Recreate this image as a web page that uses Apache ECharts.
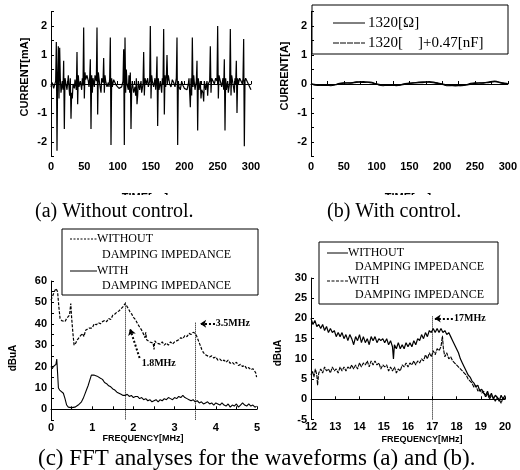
<!DOCTYPE html>
<html><head><meta charset="utf-8">
<script src="https://cdn.jsdelivr.net/npm/echarts@6/dist/echarts.min.js"></script>
<style>html,body{margin:0;padding:0;background:#fff}#c{width:520px;height:470px}</style>
</head><body><div id="c"></div>
<script>
// (a) current waveform without control: [time, current mA]
const waveA = [[0,-0.1],[2,0.05],[4,-0.15],[6,-0.1],[7,0.1],[8,1.45],[9,-2.3],[10,0.3],[11,1.3],[12,-0.5],[13,1.25],[14,0.2],[15,-0.3],[17,0.1],[18,-0.2],[19,0.8],[20,-1.55],[21,0.2],[23,0.25],[24,-0.2],[26,0.3],[27,-0.1],[28,-0.4],[29,0.2],[30,-1.2],[31,-0.3],[32,-0.5],[33,0.0],[35,-0.15],[36,0.15],[38,-0.2],[39,1.1],[40,-0.7],[41,0.3],[42,-0.1],[44,0.1],[46,-0.2],[47,0.2],[48,-0.05],[49,1.95],[50,-0.5],[51,0.4],[52,0.15],[54,0.3],[56,0.1],[57,-0.1],[58,0.2],[59,0.85],[60,-1.55],[61,0.3],[62,-0.3],[63,0.2],[65,-0.1],[66,0.3],[68,0.1],[69,1.95],[70,-1.05],[71,0.4],[72,0.2],[73,0.0],[75,-0.3],[76,0.2],[78,0.05],[79,0.9],[80,-0.3],[81,0.3],[82,0.1],[84,-0.1],[86,0.05],[87,-0.1],[88,0.2],[89,1.6],[90,-2.1],[91,0.2],[92,-0.1],[94,0.15],[96,0.1],[98,-0.05],[100,-0.1],[102,-0.15],[104,-0.1],[106,-0.1],[108,0.1],[109,1.2],[110,-2.1],[111,1.6],[112,-0.3],[113,0.5],[114,0.0],[116,-0.2],[117,0.3],[118,-0.3],[119,0.4],[120,-1.55],[121,-0.2],[122,0.1],[124,-0.3],[126,-0.1],[127,-0.4],[128,0.2],[129,-0.7],[130,-0.4],[131,0.1],[133,-0.2],[135,0.1],[136,-0.3],[138,0.0],[139,1.1],[140,-0.4],[141,0.2],[143,0.0],[145,0.2],[146,-0.1],[148,0.1],[149,2.0],[150,-0.5],[151,0.3],[152,0.1],[154,-0.1],[156,0.2],[157,-0.2],[158,0.1],[159,0.95],[160,-1.45],[161,0.2],[162,-0.2],[164,0.1],[166,-0.3],[167,0.2],[168,0.0],[169,1.9],[170,-1.05],[171,0.3],[172,-0.1],[173,0.2],[174,1.0],[175,0.1],[176,0.3],[178,0.0],[180,-0.1],[182,0.15],[184,0.05],[186,-0.1],[188,0.2],[189,1.6],[190,-2.1],[191,0.1],[192,-0.1],[194,-0.2],[196,0.1],[198,-0.05],[200,-0.15],[202,-0.1],[204,-0.2],[206,0.0],[207,0.2],[208,-0.3],[209,-0.8],[210,0.2],[211,-0.4],[212,1.6],[213,-0.1],[214,0.3],[216,-0.2],[218,0.1],[219,0.8],[220,-1.6],[221,0.2],[222,-0.2],[224,0.1],[225,-0.5],[226,-0.2],[228,-0.3],[229,-0.6],[230,0.1],[232,-0.2],[234,0.1],[235,-0.4],[236,0.0],[238,0.1],[239,1.3],[240,-0.3],[241,0.2],[243,0.1],[245,0.0],[247,0.2],[249,0.1],[250,2.0],[251,-0.5],[252,0.3],[254,0.1],[256,-0.1],[258,0.2],[259,-0.2],[260,0.85],[261,-1.6],[262,0.2],[263,-0.2],[265,0.1],[266,-0.3],[268,0.05],[269,1.9],[270,-0.4],[271,0.3],[273,0.0],[275,-0.3],[276,0.2],[277,0.0],[278,0.8],[279,-1.0],[280,0.2],[281,0.0],[283,0.2],[285,0.1],[287,0.0],[288,0.2],[289,1.55],[290,-2.15],[291,0.1],[292,0.2],[294,0.25],[296,0.0],[298,-0.1],[300,-0.2]];

// (b) with control
const timeB = [0,10,20,30,40,50,60,70,80,90,100,110,120,130,140,150,160,170,180,190,200,210,220,230,240,250,260,270,280,290,300];
const ohmB  = [0,-0.03,-0.05,-0.04,-0.01,0.03,0.04,0.06,0.08,0.05,0.0,-0.04,-0.05,-0.05,-0.02,0.02,0.04,0.05,0.08,0.05,0.0,-0.04,-0.06,-0.05,-0.02,0.02,0.04,0.05,0.08,0.05,0.01];
const capB  = [0.01,-0.05,-0.03,-0.06,0.0,0.04,0.03,0.08,0.05,0.07,-0.01,-0.06,-0.03,-0.06,0.0,0.03,0.05,0.08,0.06,0.03,-0.02,-0.06,-0.04,-0.06,0.0,0.04,0.03,0.07,0.10,0.03,0.0];

// (c) FFT 0-5 MHz: [MHz, dBuA]
const fftLowWithout = [[0,51],[0.04,53],[0.08,55],[0.12,56.5],[0.14,57],[0.16,55],[0.19,48],[0.22,42.5],[0.26,41.5],[0.3,42],[0.34,41],[0.38,42.5],[0.42,43],[0.45,44],[0.48,49.5],[0.5,43],[0.53,36],[0.56,30],[0.6,31],[0.64,32.5],[0.68,32],[0.72,34.5],[0.76,35.5],[0.8,34],[0.84,37],[0.88,36.5],[0.92,38],[0.96,38.5],[1.0,38],[1.05,40],[1.1,39.5],[1.15,40.5],[1.2,40],[1.25,41],[1.3,41.5],[1.35,41],[1.4,42.5],[1.45,42],[1.5,44],[1.55,44.5],[1.6,45.5],[1.65,46],[1.7,47],[1.75,48],[1.8,49.5],[1.84,49],[1.88,47],[1.92,45.5],[1.96,44.5],[2.0,43],[2.05,42],[2.1,40],[2.15,38.5],[2.2,37],[2.25,35],[2.28,33.5],[2.3,36],[2.32,32.5],[2.36,33],[2.4,31.5],[2.44,32],[2.48,31],[2.5,28],[2.52,32],[2.56,31],[2.6,31.5],[2.65,30.5],[2.7,31.5],[2.75,30],[2.8,31],[2.85,30],[2.9,31.5],[2.95,30.5],[3.0,31.5],[3.05,32],[3.1,32.5],[3.15,33.5],[3.2,33],[3.25,34.5],[3.3,34],[3.35,35.5],[3.4,35],[3.45,36],[3.5,35.5],[3.54,34],[3.58,32],[3.62,30],[3.66,28],[3.7,26.5],[3.75,25.5],[3.8,25],[3.85,24.5],[3.9,25],[3.95,24],[4.0,24.5],[4.05,23],[4.1,23.5],[4.15,22.5],[4.2,23],[4.25,22],[4.3,23],[4.35,21.5],[4.4,22],[4.45,21],[4.5,22],[4.55,20.5],[4.6,21],[4.65,20],[4.7,20.5],[4.75,19],[4.8,19.5],[4.85,18.5],[4.9,19],[4.94,18],[4.97,17],[4.99,15]];
const fftLowWith = [[0,20],[0.03,19],[0.06,20],[0.09,19.5],[0.12,21],[0.14,23.5],[0.16,17],[0.18,10],[0.21,9],[0.25,8.5],[0.3,7.5],[0.34,5],[0.38,2],[0.42,1],[0.46,0.3],[0.5,0.8],[0.54,0],[0.58,1],[0.62,1.5],[0.66,2],[0.7,2.5],[0.74,3.5],[0.78,5],[0.82,7],[0.86,9],[0.9,11],[0.94,13.5],[0.98,16],[1.0,16.7],[1.04,16],[1.08,16.5],[1.12,15.5],[1.16,16],[1.2,14.5],[1.25,14],[1.3,12.5],[1.35,12],[1.4,11],[1.45,10.5],[1.5,9.5],[1.55,9],[1.6,8],[1.65,7.5],[1.7,7],[1.75,6.5],[1.8,6.5],[1.85,7],[1.9,6],[1.95,6.5],[2.0,5.5],[2.05,6],[2.1,6],[2.15,5],[2.2,5.5],[2.25,4.5],[2.3,5],[2.35,4],[2.4,4.5],[2.45,3.5],[2.5,4],[2.55,4.5],[2.6,3.5],[2.65,4.5],[2.7,4],[2.75,5],[2.8,4.5],[2.85,5.5],[2.9,5],[2.95,4.5],[3.0,5.5],[3.05,5],[3.1,6],[3.15,5.5],[3.2,6.5],[3.25,5.5],[3.3,5],[3.35,4.5],[3.4,4],[3.45,4.5],[3.5,3.5],[3.55,4],[3.6,3],[3.65,3.5],[3.7,2.5],[3.75,3],[3.8,3.5],[3.85,2.5],[3.9,3],[3.95,2],[4.0,3],[4.05,2.5],[4.1,2],[4.15,3],[4.2,2],[4.25,1.5],[4.3,2.5],[4.35,1],[4.4,2],[4.45,1.5],[4.5,2.5],[4.55,1],[4.6,2],[4.65,3],[4.7,2],[4.75,1.5],[4.8,2.5],[4.85,1.5],[4.9,2],[4.95,1],[4.99,1.5]];

// (c) FFT 12-20 MHz: [MHz, dBuA]
const fftHighWithout = [[12.00,20],[12.08,18.5],[12.16,19.5],[12.24,18],[12.32,18.5],[12.40,17.5],[12.48,18.5],[12.56,17],[12.64,18],[12.72,16.5],[12.80,17.5],[12.88,16.5],[12.96,17],[13.04,15.5],[13.12,16.5],[13.20,15.5],[13.28,16.5],[13.36,15],[13.44,16],[13.52,14.5],[13.60,16],[13.68,15],[13.76,13.5],[13.84,15.5],[13.92,14.5],[14.00,16],[14.08,14],[14.16,15.5],[14.24,14],[14.32,15],[14.40,13.5],[14.48,15.5],[14.56,14.5],[14.64,15.5],[14.72,14],[14.80,15],[14.88,14.5],[14.96,15],[15.04,14],[15.12,15],[15.20,13.5],[15.28,14.5],[15.36,13],[15.40,10],[15.44,13.5],[15.52,12.5],[15.60,14],[15.68,12.5],[15.76,13.5],[15.84,12.5],[15.92,14],[16.00,13],[16.08,14],[16.16,13],[16.24,14.5],[16.32,13.5],[16.40,15],[16.48,14.5],[16.56,16],[16.64,15],[16.72,16.5],[16.80,15.5],[16.88,17],[16.96,16.5],[17.04,17.5],[17.12,16.5],[17.20,17.5],[17.28,16.5],[17.36,17.5],[17.44,16.5],[17.52,17],[17.60,16],[17.68,16.5],[17.76,15.5],[17.84,14.5],[17.92,13.5],[18.00,12.5],[18.08,11.5],[18.16,10],[18.24,9],[18.32,8],[18.40,7],[18.48,6],[18.56,5.5],[18.64,4.5],[18.72,4],[18.80,3],[18.88,3.5],[18.96,2],[19.04,2.5],[19.12,1.5],[19.20,1],[19.28,2],[19.36,0.5],[19.44,1.5],[19.52,0],[19.60,1],[19.68,0.5],[19.76,-0.5],[19.84,1],[19.92,0],[20.00,1]];
const fftHighWith = [[12.00,6],[12.06,7],[12.12,5.5],[12.18,7.5],[12.24,6],[12.27,3.5],[12.32,6.5],[12.40,7.5],[12.48,6.5],[12.56,8],[12.64,7],[12.72,7.5],[12.80,6.5],[12.88,8],[12.96,7],[13.04,7.5],[13.12,6.5],[13.20,8],[13.28,7],[13.36,8],[13.44,7],[13.52,8],[13.60,7.5],[13.68,8.5],[13.76,7.5],[13.84,8.5],[13.92,7.5],[14.00,9],[14.08,8],[14.16,9],[14.24,8.5],[14.32,9.5],[14.40,8],[14.48,9.5],[14.56,8.5],[14.64,9.5],[14.72,8.5],[14.80,9],[14.88,7.5],[14.96,8.5],[15.04,8],[15.12,8.5],[15.20,7],[15.28,8],[15.36,7],[15.44,8],[15.52,6.5],[15.60,7.5],[15.68,7],[15.76,8.5],[15.84,8],[15.92,9],[16.00,8],[16.08,9],[16.16,8.5],[16.24,9.5],[16.32,8.5],[16.40,9.5],[16.48,9],[16.56,10],[16.64,9.5],[16.72,11],[16.80,10],[16.88,11.5],[16.96,10.5],[17.04,12],[17.12,11],[17.20,12.5],[17.28,12],[17.36,13],[17.42,15.7],[17.46,12.5],[17.52,10.5],[17.60,11.5],[17.68,10],[17.76,10.5],[17.84,9.5],[17.92,9.5],[18.00,8.5],[18.08,8.5],[18.16,7.5],[18.24,7.5],[18.32,6.5],[18.40,6],[18.48,5],[18.56,4.5],[18.64,4],[18.72,3],[18.80,3.5],[18.88,2],[18.96,2.5],[19.04,1.5],[19.12,2],[19.20,0.5],[19.28,1.5],[19.36,0],[19.44,1],[19.52,0.5],[19.60,-0.5],[19.68,0.5],[19.76,0],[19.84,-1],[19.92,0.5],[20.00,0]];

const legendB = ['1320[\u03A9]', '1320[    ]+0.47[nF]'];
const legendC = ['WITHOUT', 'DAMPING IMPEDANCE', 'WITH', 'DAMPING IMPEDANCE'];

const chart = echarts.init(document.getElementById('c'), null, {renderer: 'canvas'});
const lab = {color: '#000', fontWeight: 'bold', fontSize: 11, fontFamily: 'Liberation Sans'};
const axLine = {show: true, lineStyle: {color: '#000', width: 1}};
function xAx(grid, min, max, interval, every, margin) {
  return {
    type: 'value', gridIndex: grid, min: min, max: max, interval: interval,
    axisLine: axLine, splitLine: {show: false},
    axisTick: {show: true, inside: true, length: 3, lineStyle: {color: '#000'}},
    axisLabel: Object.assign({}, lab, {margin: margin, formatter: v => (Math.abs(v / every - Math.round(v / every)) < 1e-6 ? String(v) : '')})
  };
}
function yAx(grid, min, max, interval, every) {
  return {
    type: 'value', gridIndex: grid, min: min, max: max, interval: interval,
    axisLine: axLine, splitLine: {show: false},
    axisTick: {show: true, inside: true, length: 3, lineStyle: {color: '#000'}},
    axisLabel: Object.assign({}, lab, {margin: 4, formatter: v => (Math.abs(v / every - Math.round(v / every)) < 1e-6 ? String(v) : '')})
  };
}
const dot = {color: '#000', width: 1, type: 'dotted'};

const option = {
  animation: false,
  backgroundColor: '#fff',
  grid: [
    {left: 51, top: 11.5, width: 200, height: 145},
    {left: 311, top: 11.5, width: 199, height: 145},
    {left: 51, top: 281, width: 206, height: 139},
    {left: 311, top: 278, width: 194, height: 141.5}
  ],
  xAxis: [xAx(0, 0, 300, 25, 50, 5), xAx(1, 0, 300, 25, 50, 5), xAx(2, 0, 5, 0.5, 1, 2), xAx(3, 12, 20, 1, 1, 2)],
  yAxis: [yAx(0, -2.5, 2.5, 0.5, 1), yAx(1, -2.5, 2.5, 0.5, 1), yAx(2, -5, 60, 5, 10), yAx(3, -5, 30, 5, 5)],
  series: [
    {type: 'line', xAxisIndex: 0, yAxisIndex: 0, data: waveA, symbol: 'none', lineStyle: {color: '#000', width: 1.2}},
    {type: 'line', xAxisIndex: 1, yAxisIndex: 1, data: timeB.map((t, i) => [t, ohmB[i]]), symbol: 'none', smooth: true, lineStyle: {color: '#000', width: 1.3}},
    {type: 'line', xAxisIndex: 1, yAxisIndex: 1, data: timeB.map((t, i) => [t, capB[i]]), symbol: 'none', smooth: true, lineStyle: {color: '#000', width: 1.1}},
    {type: 'line', xAxisIndex: 2, yAxisIndex: 2, data: fftLowWithout, symbol: 'none', lineStyle: {color: '#000', width: 1.2, type: [3, 1.5]},
      markLine: {silent: true, symbol: 'none', lineStyle: dot, label: {show: false},
        data: [[{coord: [1.8, 50]}, {coord: [1.8, -5]}], [{coord: [3.5, 40.5]}, {coord: [3.5, -5]}]]},
      markPoint: {symbol: 'circle', symbolSize: 0, label: {show: true, position: 'right', distance: 0, color: '#000', fontWeight: 'bold', fontSize: 10, fontFamily: 'Liberation Serif'},
        data: [{coord: [2.2, 21.6], label: {formatter: '1.8MHz'}}, {coord: [4.0, 40], label: {formatter: '3.5MHz'}}]}
    },
    {type: 'line', xAxisIndex: 2, yAxisIndex: 2, data: fftLowWith, symbol: 'none', lineStyle: {color: '#000', width: 1.1},
      markLine: {silent: true, symbol: ['none', 'arrow'], symbolSize: 6, lineStyle: {color: '#000', width: 2, type: 'dotted'}, label: {show: false},
        data: [[{coord: [2.15, 24]}, {coord: [1.92, 37.5]}], [{coord: [3.98, 40]}, {coord: [3.62, 40]}]]}
    },
    {type: 'line', xAxisIndex: 3, yAxisIndex: 3, data: fftHighWithout, symbol: 'none', lineStyle: {color: '#000', width: 1.2},
      markLine: {silent: true, symbol: 'none', lineStyle: dot, label: {show: false},
        data: [[{coord: [17, 20.5]}, {coord: [17, -5]}]]},
      markPoint: {symbol: 'circle', symbolSize: 0, label: {show: true, position: 'right', distance: 0, color: '#000', fontWeight: 'bold', fontSize: 10, fontFamily: 'Liberation Serif'},
        data: [{coord: [17.9, 20], label: {formatter: '17MHz'}}]}
    },
    {type: 'line', xAxisIndex: 3, yAxisIndex: 3, data: fftHighWith, symbol: 'none', lineStyle: {color: '#000', width: 1.1, type: [4, 1]},
      markLine: {silent: true, symbol: ['none', 'arrow'], symbolSize: 6, lineStyle: {color: '#000', width: 2, type: 'dotted'}, label: {show: false},
        data: [[{coord: [17.85, 20]}, {coord: [17.1, 20]}]]}
    }
  ]
};
chart.setOption(option);

const serif = 'Liberation Serif';
const ttl = (t, x, y, rot, size) => ({type: 'text', x: x, y: y, rotation: rot ? Math.PI / 2 : 0,
  style: {text: t, fill: '#000', font: 'bold ' + (size || 10) + 'px "Liberation Sans"', textAlign: 'center', textVerticalAlign: 'middle'}});
const seg = (x1, y1, x2, y2, dash) => ({type: 'line', shape: {x1: x1, y1: y1, x2: x2, y2: y2}, style: {stroke: '#000', lineWidth: 1, lineDash: dash || null}});
const txt = (t, x, y, size, align) => ({type: 'text', x: x, y: y, style: {text: t, fill: '#000', font: size + 'px "' + serif + '"', textAlign: align || 'left', textVerticalAlign: 'middle'}});

const g = [
  ttl('CURRENT[mA]', 25, 77, true, 11),
  ttl('CURRENT[A]', 285, 76, true, 11),
  ttl('dBuA', 13, 358, true, 10),
  ttl('dBuA', 278, 353, true, 10),
  ttl('FREQUENCY[MHz]', 143, 439, false, 9),
  ttl('FREQUENCY[MHz]', 422, 440, false, 9),
  ttl('TIME[\u03BCs]', 145, 198, false, 11),
  ttl('TIME[\u03BCs]', 408, 198, false, 11),
  {type: 'rect', shape: {x: 0, y: 195, width: 520, height: 10}, style: {fill: '#fff'}},
  txt('(a) Without control.', 35, 212, 20),
  txt('(b) With control.', 327, 212, 20),
  txt('(c) FFT analyses for the waveforms (a) and (b).', 38, 459, 23),
  // legend (b)
  {type: 'rect', shape: {x: 312, y: 5, width: 196, height: 49}, style: {fill: '#fff', stroke: '#000', lineWidth: 1}},
  seg(333, 23, 365, 23), seg(333, 43, 365, 43, [6, 1]),
  txt(legendB[0], 368, 23, 15), txt(legendB[1], 368, 43, 15),
  // legend (c) left
  {type: 'rect', shape: {x: 62, y: 229, width: 196, height: 66}, style: {fill: '#fff', stroke: '#000', lineWidth: 1}},
  seg(70, 239, 97, 239, [2, 1.5]), seg(70, 271, 97, 271),
  txt(legendC[0], 97, 239, 12), txt(legendC[1], 102, 255, 12), txt(legendC[2], 97, 271, 12), txt(legendC[3], 102, 286, 12),
  // legend (c) right
  {type: 'rect', shape: {x: 319, y: 242, width: 179, height: 62}, style: {fill: '#fff', stroke: '#000', lineWidth: 1}},
  seg(327, 253, 348, 253), seg(327, 281, 348, 281, [3, 1.5]),
  txt(legendC[0], 348, 253, 12), txt(legendC[1], 355, 267, 12), txt(legendC[2], 348, 281, 12), txt(legendC[3], 355, 295, 12)
];
chart.setOption({graphic: g});
</script></body></html>
